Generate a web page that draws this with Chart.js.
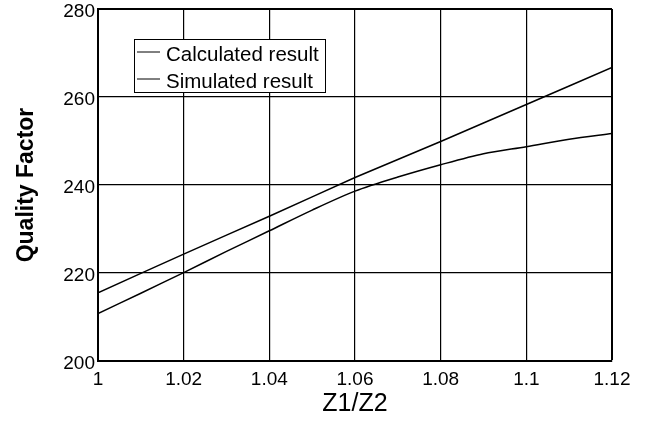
<!DOCTYPE html>
<html>
<head>
<meta charset="utf-8">
<script src="https://cdn.jsdelivr.net/npm/chart.js@4"></script>
<style>
  body { margin: 0; background: #fff; }
  #wrap { width: 653px; height: 426px; }
</style>
</head>
<body>
<div id="wrap"><canvas id="qChart" width="653" height="426"></canvas></div>
<script>
// values
var ratios = [1, 1.01, 1.02, 1.03, 1.04, 1.05, 1.06, 1.07, 1.08, 1.09, 1.1, 1.11, 1.12];
var calculated = [215.5, 219.9, 224.3, 228.6, 232.9, 237.3, 241.7, 245.8, 249.9, 254.1, 258.3, 262.5, 266.7];
var simulated = [210.8, 215.4, 220.1, 224.9, 229.6, 234.3, 238.6, 241.8, 244.6, 247.1, 248.7, 250.4, 251.7];
var xTickLabels = ["1", "1.02", "1.04", "1.06", "1.08", "1.1", "1.12"];
var yTickLabels = ["200", "220", "240", "260", "280"];
var seriesNames = ["Calculated result", "Simulated result"];

function toPoints(xs, ys) {
  var pts = [];
  for (var i = 0; i < xs.length; i++) {
    pts.push({ x: xs[i], y: ys[i] });
  }
  return pts;
}

var fontFamily = "'Liberation Sans', Arial, sans-serif";

// legend box drawn inside the plot, like the original
var insideLegend = {
  id: "insideLegend",
  afterDatasetsDraw: function (chart) {
    var ctx = chart.ctx;
    ctx.save();
    ctx.fillStyle = "#fff";
    ctx.fillRect(134.5, 39.5, 191, 53);
    ctx.strokeStyle = "#000";
    ctx.lineWidth = 1;
    ctx.strokeRect(134.5, 39.5, 191, 53);
    ctx.font = "20.5px " + fontFamily;
    ctx.textBaseline = "middle";
    ctx.fillStyle = "#000";
    chart.data.datasets.forEach(function (ds, i) {
      var y = 52 + i * 27;
      ctx.beginPath();
      ctx.moveTo(137, y);
      ctx.lineTo(160, y);
      ctx.lineWidth = 1;
      ctx.strokeStyle = ds.borderColor;
      ctx.stroke();
      ctx.fillText(ds.label, 166, y + 3);
    });
    ctx.restore();
  }
};

var ctx = document.getElementById("qChart").getContext("2d");
var chart = new Chart(ctx, {
  type: "line",
  data: {
    datasets: [
      {
        label: seriesNames[0],
        data: toPoints(ratios, calculated),
        borderColor: "#000",
        borderWidth: 1.5,
        pointRadius: 0,
        tension: 0
      },
      {
        label: seriesNames[1],
        data: toPoints(ratios, simulated),
        borderColor: "#000",
        borderWidth: 1.5,
        pointRadius: 0,
        tension: 0.3
      }
    ]
  },
  options: {
    responsive: false,
    animation: false,
    layout: { padding: { left: 0, top: 9, right: 41, bottom: 0 } },
    plugins: {
      legend: { display: false },
      tooltip: { enabled: false }
    },
    scales: {
      x: {
        type: "linear",
        min: 1,
        max: 1.12,
        ticks: {
          stepSize: 0.02,
          padding: 7,
          color: "#000",
          font: { family: fontFamily, size: 19 },
          maxRotation: 0,
          autoSkip: false,
          callback: function (v, i) { return xTickLabels[i]; }
        },
        grid: {
          color: "#000",
          drawTicks: false,
          lineWidth: function (c) { return c.index === xTickLabels.length - 1 ? 2 : 1.2; }
        },
        border: { color: "#000", width: 2 },
        title: {
          display: true,
          text: "Z1/Z2",
          color: "#000",
          font: { family: fontFamily, size: 25, lineHeight: 1.2 },
          padding: { top: 0, bottom: 7 }
        },
        afterFit: function (scale) { scale.height = 65; }
      },
      y: {
        min: 200,
        max: 280,
        ticks: {
          stepSize: 20,
          padding: 3,
          labelOffset: 3,
          color: "#000",
          font: { family: fontFamily, size: 19 },
          callback: function (v, i) { return yTickLabels[i]; }
        },
        grid: {
          color: "#000",
          drawTicks: false,
          lineWidth: function (c) { return c.index === yTickLabels.length - 1 ? 2 : 1.2; }
        },
        border: { color: "#000", width: 2 },
        title: {
          display: true,
          text: "Quality Factor",
          color: "#000",
          font: { family: fontFamily, size: 23, weight: "bold", lineHeight: 1.2 },
          padding: { top: 13, bottom: 0 }
        },
        afterFit: function (scale) {
          scale.width = 98;
          scale.paddingTop = 0;
          scale.paddingBottom = 0;
        }
      }
    }
  },
  plugins: [insideLegend]
});
</script>
</body>
</html>
